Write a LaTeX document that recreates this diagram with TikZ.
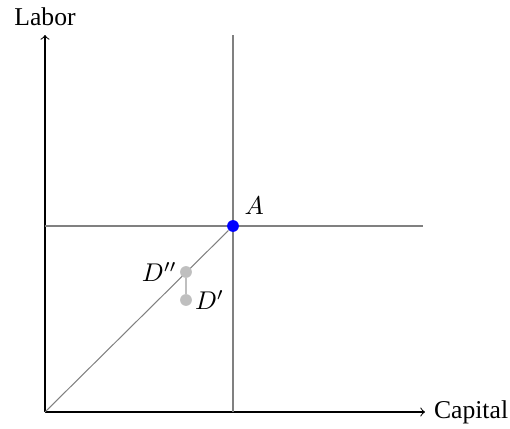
\documentclass[tikz,border=0pt]{standalone}
\usepackage{fontspec}
\setmainfont{Liberation Serif}
\begin{document}
\begin{tikzpicture}[x=0.39pt,y=0.39pt]
    \tikzset{
        grid line/.style={gray, thin},
        dot/.style={circle, fill=#1, inner sep=0pt, minimum size=4.6pt},
    }
    \useasboundingbox (-45,-16) rectangle (465,412);
    % axes
    \coordinate (O) at (0,0);
    \coordinate (xend) at (380,0);
    \coordinate (yend) at (0,377);
    \draw[->] (O) -- (xend) node[right] {Capital};
    \draw[->] (O) -- (yend) node[above] {Labor};
    % reference lines through A
    \coordinate (vtop) at (188,377);
    \coordinate (vbot) at (188,0);
    \coordinate (hleft) at (0,186);
    \coordinate (hright) at (378,186);
    \draw[grid line] (vbot) -- (vtop);
    \draw[grid line] (hleft) -- (hright);
    \node[dot=blue] (A) at (188,186) {};
    \draw[grid line] (O) -- (A);
    \node[above right=1pt] at (A) {$A$};
    % D points
    \node[dot=gray!50] (D2) at (141,140) {};
    \node[dot=gray!50] (D1) at (141,112) {};
    \draw[gray!50] (D2) -- (D1);
    \node[left] at (D2) {$D''$};
    \node[right] at (D1) {$D'$};
\end{tikzpicture}
\end{document}
